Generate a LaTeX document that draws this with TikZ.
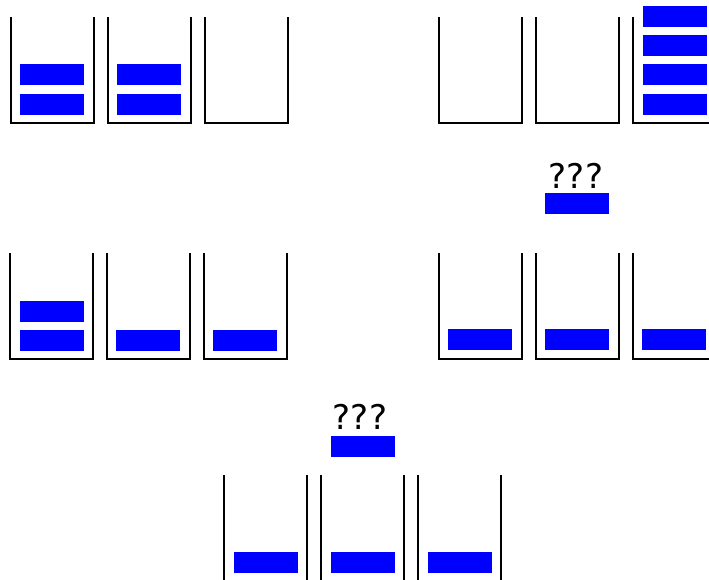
\documentclass[tikz,border=0pt]{standalone}
\usepackage{fontspec}
\newfontfamily\qfont{DejaVu Sans}
\usetikzlibrary{calc}

\tikzset{
    bin/.style={line width=2.9pt},
    box/.style={fill=blue},
    qm/.style={font=\qfont\fontsize{34}{34}\selectfont, inner sep=0pt}
}
% bin with open top: left edge, top edge
\newcommand{\drawbin}[2]{\draw[bin] (#1,#2) -- ++(0,106) -- ++(83,0) -- ++(0,-106);}
% one block: left edge, top edge
\newcommand{\drawbox}[2]{\fill[box] (#1,#2) rectangle ++(64,21);}

\begin{document}
\begin{tikzpicture}[x=1pt, y=-1pt]
    \useasboundingbox (0,0) rectangle (709,579);

    % 1. Nhóm trên bên trái
    \foreach \x in {11,108,205} {\drawbin{\x}{17}}
    \foreach \x in {20,117} {
        \drawbox{\x}{64}
        \drawbox{\x}{94}
    }

    % 2. Nhóm trên bên phải
    \foreach \x in {439,536,633} {\drawbin{\x}{17}}
    \foreach \y in {6,35,64,94} {\drawbox{643}{\y}}
    \node[qm] (q1) at (576,176) {???};
    \drawbox{545}{193}

    % 3. Nhóm giữa bên trái
    \foreach \x in {10,107,204} {\drawbin{\x}{253}}
    \drawbox{20}{300.5}
    \foreach \x in {20,116,213} {\drawbox{\x}{330}}

    % 4. Nhóm giữa bên phải
    \foreach \x in {439,536,633} {\drawbin{\x}{253}}
    \foreach \x in {448,545,642} {\drawbox{\x}{329}}

    % 5. Nhóm dưới
    \foreach \x in {224,321,418} {\drawbin{\x}{475}}
    \foreach \x in {234,331,428} {\drawbox{\x}{552}}
    \node[qm] (q2) at (360,417) {???};
    \drawbox{331}{436}
\end{tikzpicture}
\end{document}
